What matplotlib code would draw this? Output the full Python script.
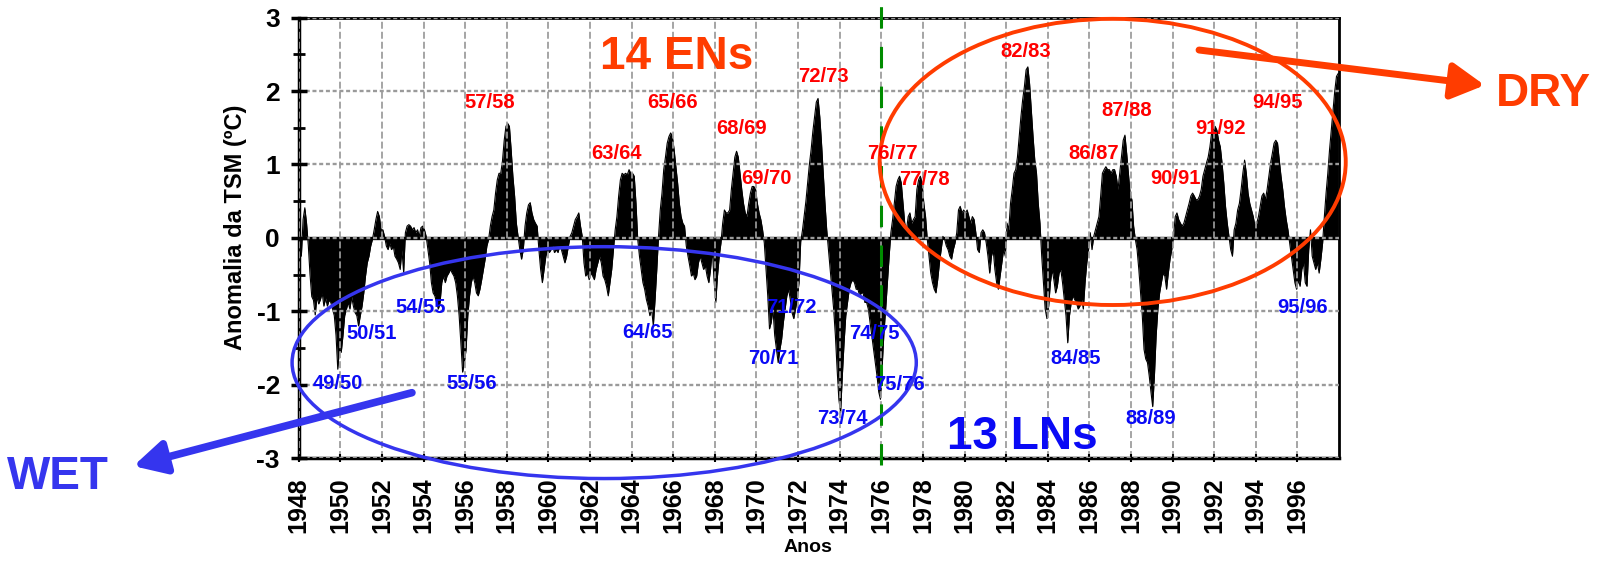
import numpy as np
import matplotlib
matplotlib.use("Agg")
import matplotlib.pyplot as plt
from matplotlib.patches import Ellipse

plt.rcParams["font.family"] = ["Liberation Sans", "DejaVu Sans"]
plt.rcParams["font.weight"] = "bold"
plt.rcParams["axes.unicode_minus"] = False

FIRST_YEAR = 1948

# anomalia mensal de TSM (ºC), uma linha por ano (jan..dez), 1948-1997
TSM = [
    [0.05, -0.25, 0.25, 0.41, 0.20, -0.10, -0.50, -0.80, -0.85, -1.05, -0.80, -0.90],
    [-0.84, -0.75, -0.93, -0.82, -0.93, -0.85, -0.88, -0.97, -1.06, -1.33, -1.79, -1.50],
    [-1.56, -1.33, -1.06, -0.97, -0.88, -0.97, -0.80, -0.93, -1.02, -1.06, -1.20, -1.06],
    [-0.93, -0.75, -0.52, -0.34, -0.25, -0.11, -0.02, 0.11, 0.25, 0.36, 0.29, 0.11],
    [0.11, 0.02, -0.11, -0.16, -0.07, -0.16, -0.11, -0.25, -0.29, -0.34, -0.43, -0.16],
    [-0.47, 0.07, 0.16, 0.18, 0.16, 0.11, 0.14, 0.07, 0.11, 0.02, 0.14, 0.16],
    [0.11, 0.02, -0.16, -0.34, -0.61, -0.75, -0.79, -0.88, -0.97, -0.88, -0.61, -0.52],
    [-0.61, -0.52, -0.48, -0.43, -0.48, -0.52, -0.61, -0.79, -1.06, -1.43, -1.83, -1.70],
    [-1.52, -1.06, -0.79, -0.61, -0.52, -0.61, -0.75, -0.79, -0.70, -0.57, -0.43, -0.29],
    [-0.11, -0.02, 0.16, 0.29, 0.38, 0.61, 0.79, 0.88, 0.88, 1.05, 1.33, 1.52],
    [1.56, 1.52, 1.20, 0.84, 0.57, 0.20, 0.02, -0.16, -0.29, -0.16, 0.16, 0.34],
    [0.45, 0.48, 0.34, 0.25, 0.20, 0.16, -0.16, -0.43, -0.61, -0.43, -0.25, -0.16],
    [-0.20, -0.16, -0.11, -0.20, -0.16, -0.20, -0.11, -0.16, -0.25, -0.34, -0.25, -0.11],
    [0.02, 0.07, 0.16, 0.25, 0.29, 0.34, 0.16, 0.02, -0.34, -0.52, -0.48, -0.57],
    [-0.48, -0.52, -0.57, -0.43, -0.34, -0.25, -0.34, -0.52, -0.57, -0.66, -0.79, -0.61],
    [-0.43, -0.16, 0.11, 0.29, 0.57, 0.79, 0.88, 0.86, 0.88, 0.86, 0.93, 0.88],
    [0.88, 0.84, 0.47, -0.02, -0.25, -0.43, -0.61, -0.70, -0.84, -0.93, -1.06, -0.97],
    [-1.20, -0.84, -0.43, 0.02, 0.38, 0.61, 0.93, 1.10, 1.29, 1.38, 1.43, 1.38],
    [1.20, 0.97, 0.75, 0.47, 0.29, 0.20, 0.16, -0.11, -0.25, -0.38, -0.52, -0.48],
    [-0.57, -0.52, -0.34, -0.25, -0.34, -0.43, -0.38, -0.52, -0.61, -0.43, -0.16, -0.57],
    [-0.88, -0.52, -0.25, -0.07, 0.20, 0.38, 0.34, 0.34, 0.38, 0.66, 0.88, 1.10],
    [1.18, 1.10, 0.88, 0.66, 0.47, 0.34, 0.29, 0.47, 0.61, 0.70, 0.70, 0.66],
    [0.47, 0.34, 0.25, 0.11, -0.07, -0.43, -0.79, -1.24, -1.15, -0.97, -1.33, -1.52],
    [-1.70, -1.52, -1.38, -1.15, -0.97, -0.79, -0.70, -0.84, -1.02, -1.10, -0.97, -0.84],
    [-0.61, -0.05, 0.10, 0.30, 0.50, 0.75, 1.00, 1.20, 1.45, 1.65, 1.85, 1.90],
    [1.65, 1.29, 0.88, 0.47, 0.11, -0.16, -0.43, -0.70, -0.97, -1.33, -1.79, -2.20],
    [-2.38, -1.88, -1.43, -1.06, -0.88, -0.70, -0.61, -0.57, -0.61, -0.70, -0.70, -0.79],
    [-0.75, -0.75, -0.88, -0.88, -0.97, -1.15, -1.33, -1.52, -1.70, -1.88, -2.10, -2.20],
    [-1.75, -1.29, -0.97, -0.61, -0.25, 0.07, 0.25, 0.47, 0.70, 0.79, 0.84, 0.75],
    [0.47, 0.20, 0.11, 0.29, 0.34, 0.20, 0.25, 0.29, 0.66, 0.79, 0.84, 0.75],
    [0.47, 0.29, -0.02, -0.25, -0.48, -0.61, -0.70, -0.75, -0.57, -0.34, -0.16, 0.02],
    [-0.02, -0.11, -0.16, -0.25, -0.29, -0.16, -0.07, 0.07, 0.38, 0.43, 0.34, 0.38],
    [0.34, 0.38, 0.29, 0.20, 0.29, 0.25, 0.07, -0.16, -0.20, 0.07, 0.11, 0.07],
    [-0.07, -0.25, -0.48, -0.25, -0.16, -0.43, -0.61, -0.70, -0.52, -0.34, -0.16, -0.25],
    [0.20, 0.11, 0.47, 0.66, 0.88, 0.93, 1.10, 1.38, 1.65, 1.88, 2.06, 2.29],
    [2.33, 2.10, 1.74, 1.38, 1.06, 0.88, 0.47, 0.20, -0.25, -0.61, -0.97, -1.10],
    [-0.93, -0.61, -0.43, -0.57, -0.75, -0.66, -0.48, -0.43, -0.61, -0.84, -1.06, -1.43],
    [-1.06, -0.88, -0.79, -0.84, -0.88, -0.97, -0.93, -0.84, -0.97, -0.61, -0.34, -0.16],
    [0.07, -0.16, 0.02, 0.11, 0.20, 0.29, 0.57, 0.88, 0.93, 0.97, 0.93, 0.93],
    [0.88, 0.93, 0.93, 0.84, 0.66, 0.88, 1.10, 1.33, 1.40, 1.15, 0.88, 0.60],
    [0.52, 0.16, -0.02, -0.16, -0.43, -0.75, -1.06, -1.52, -1.65, -1.70, -1.88, -2.10],
    [-2.30, -1.88, -1.33, -0.97, -0.75, -0.61, -0.48, -0.52, -0.70, -0.48, -0.29, -0.16],
    [0.02, 0.29, 0.34, 0.25, 0.20, 0.16, 0.20, 0.29, 0.38, 0.47, 0.57, 0.61],
    [0.57, 0.52, 0.52, 0.57, 0.66, 0.84, 0.93, 1.02, 1.10, 1.24, 1.43, 1.47],
    [1.52, 1.47, 1.33, 1.24, 1.02, 0.75, 0.43, 0.20, 0.02, -0.16, -0.25, 0.11],
    [0.20, 0.38, 0.47, 0.66, 0.88, 1.06, 0.88, 0.61, 0.47, 0.38, 0.29, 0.16],
    [0.20, 0.29, 0.43, 0.57, 0.61, 0.52, 0.66, 0.84, 1.02, 1.15, 1.29, 1.33],
    [1.29, 1.06, 0.84, 0.66, 0.43, 0.25, 0.11, -0.07, -0.25, -0.43, -0.61, -0.70],
    [-0.57, -0.66, -0.43, -0.34, -0.61, -0.66, -0.16, 0.11, -0.25, -0.34, -0.43, -0.34],
    [-0.48, -0.29, -0.07, 0.29, 0.61, 0.88, 1.20, 1.47, 1.74, 2.00, 2.20, 2.24],
]

# eventos El Niño (vermelho) e La Niña (azul): rótulo, ano, anomalia da linha de base
EN_EVENTS = [
    ("57/58", 1957.18, 1.775), ("63/64", 1963.28, 1.072), ("65/66", 1965.98, 1.775),
    ("68/69", 1969.28, 1.41), ("69/70", 1970.48, 0.73), ("72/73", 1973.24, 2.13),
    ("76/77", 1976.55, 1.072), ("77/78", 1978.09, 0.718), ("82/83", 1982.93, 2.47),
    ("86/87", 1986.23, 1.08), ("87/88", 1987.78, 1.66), ("90/91", 1990.15, 0.73),
    ("91/92", 1992.28, 1.41), ("94/95", 1995.03, 1.775),
]
LN_EVENTS = [
    ("49/50", 1949.90, -2.06), ("50/51", 1951.51, -1.38), ("54/55", 1953.85, -1.02),
    ("55/56", 1956.32, -2.06), ("64/65", 1964.77, -1.37), ("70/71", 1970.80, -1.72),
    ("71/72", 1971.70, -1.02), ("73/74", 1974.12, -2.54), ("74/75", 1975.67, -1.38),
    ("75/76", 1976.87, -2.07), ("84/85", 1985.35, -1.72), ("88/89", 1988.96, -2.54),
    ("95/96", 1996.23, -1.02),
]

RED = "#ff0000"
ORANGE = "#ff3c00"
BLUE = "#0a0af5"
BLUE_SOFT = "#3535ee"

anom = np.array(TSM).ravel()
months = FIRST_YEAR + (np.arange(anom.size) + 0.5) / 12

fig = plt.figure(figsize=(16.01, 5.63), dpi=100)
ax = fig.add_axes([0.1866, 0.1865, 0.6498, 0.782])

ax.fill_between(months, anom, 0, color="black", lw=0, zorder=1)
ax.plot(months, anom, color="black", lw=0.8, zorder=1)
ax.axhline(0, color="black", lw=2.4, zorder=1.5)

ax.set_xlim(1948, 1998)
ax.set_ylim(-3, 3)
ax.set_xticks(range(1948, 1997, 2))
ax.set_yticks(range(-3, 4))
ax.set_yticks(np.arange(-2.5, 3, 1), minor=True)

ax.set_axisbelow(False)
ax.xaxis.grid(True, ls=(0, (4, 1.75)), color="#9a9a9a", lw=1.25)
ax.yaxis.grid(True, ls=(0, (1.7, 1.15)), color="#9a9a9a", lw=1.7)

ax.tick_params(axis="x", which="major", direction="inout", length=6, width=1.5,
               pad=11, labelsize=18, labelrotation=90)
ax.tick_params(axis="y", which="major", direction="inout", length=11, width=2.5,
               pad=8, labelsize=19)
ax.tick_params(axis="y", which="minor", direction="inout", length=8, width=2)

for side, lw in (("left", 2.5), ("bottom", 2.5), ("top", 2), ("right", 2)):
    ax.spines[side].set_linewidth(lw)

ax.set_ylabel("Anomalia da TSM (ºC)", fontsize=17, fontweight="bold")
ax.yaxis.set_label_coords(-0.050, 0.525)
ax.set_xlabel("Anos", fontsize=14, fontweight="bold")
ax.xaxis.set_label_coords(0.489, -0.183)

# divisão 1976 (mudança de regime)
ax.plot([1976, 1976], [-3.1, 3.3], color="#008c00", lw=2.2, ls=(0, (7, 6)),
        clip_on=False, zorder=3)

for label, x, y in EN_EVENTS:
    ax.text(x, y, label, color=RED, fontsize=14.5, fontweight="bold",
            ha="center", va="baseline", zorder=5)
for label, x, y in LN_EVENTS:
    ax.text(x, y, label, color=BLUE, fontsize=14.5, fontweight="bold",
            ha="center", va="baseline", zorder=5)

ax.text(1966.16, 2.30, "14 ENs", color=ORANGE, fontsize=33, fontweight="bold",
        ha="center", va="baseline", zorder=5)
ax.text(1982.76, -2.875, "13 LNs", color=BLUE, fontsize=33, fontweight="bold",
        ha="center", va="baseline", zorder=5)

ax.add_patch(Ellipse((1962.68, -1.70), 30.0, 3.16, fill=False, ec=BLUE_SOFT,
                     lw=2.5, clip_on=False, zorder=4))
ax.add_patch(Ellipse((1987.12, 1.035), 22.4, 3.90, fill=False, ec=ORANGE,
                     lw=2.8, clip_on=False, zorder=4))

ax.annotate("", xy=(2005.0, 2.08), xytext=(1991.27, 2.56), annotation_clip=False,
            arrowprops=dict(arrowstyle="-|>,head_length=1.0,head_width=0.55",
                            color=ORANGE, lw=5, mutation_scale=20,
                            shrinkA=0, shrinkB=0), zorder=6)
ax.annotate("", xy=(1940.05, -3.11), xytext=(1953.44, -2.11), annotation_clip=False,
            arrowprops=dict(arrowstyle="-|>,head_length=0.95,head_width=0.5",
                            color=BLUE_SOFT, lw=5.5, mutation_scale=20,
                            shrinkA=0, shrinkB=0), zorder=6)

ax.text(2007.83, 1.80, "DRY", color=ORANGE, fontsize=33, fontweight="bold",
        ha="center", va="baseline", clip_on=False)
ax.text(1936.44, -3.42, "WET", color=BLUE_SOFT, fontsize=33, fontweight="bold",
        ha="center", va="baseline", clip_on=False)

fig.savefig("out.png", dpi=100)
